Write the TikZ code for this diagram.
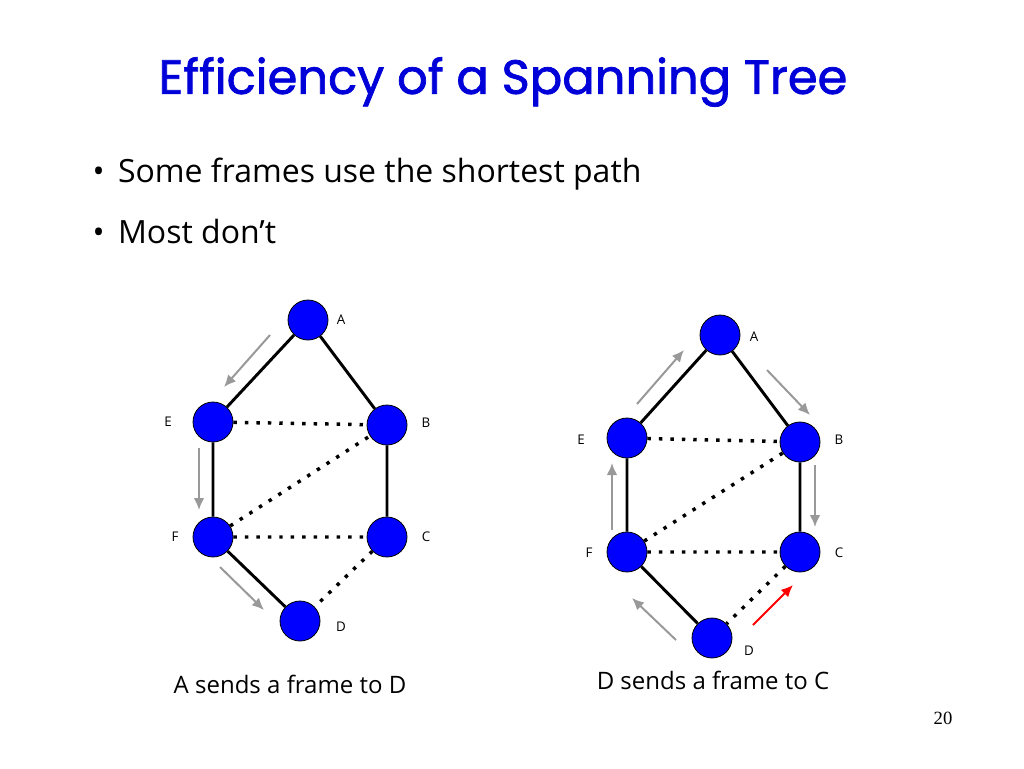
\documentclass[tikz,border=0pt]{standalone}
\usepackage{fontspec}
\usetikzlibrary{arrows.meta}
\setmainfont{Liberation Serif}
\newfontfamily\titlefont{Poppins}[FakeBold=1.5]
\newfontfamily\bodyfont{Open Sans}
\begin{document}
\begin{tikzpicture}[x=0.75pt,y=-0.75pt,
  nd/.style={circle,fill=blue,draw=black,line width=0.6pt,minimum size=30pt,inner sep=0},
  lbl/.style={font=\bodyfont\fontsize{10}{12}\selectfont},
  sol/.style={line width=2.2pt},
  dot/.style={line width=2.6pt,dash pattern=on 2.6pt off 6pt},
  ga/.style={draw=gray!80,line width=1.5pt,-{Latex[length=9pt,width=8pt]}},
  ra/.style={draw=red,line width=1.5pt,-{Latex[length=9pt,width=8pt]}}]
\useasboundingbox (0,0) rectangle (1024,768);
\node[font=\titlefont\fontsize{36}{40}\selectfont,text=blue!85!black] (title) at (503,82) {Efficiency of a Spanning Tree};
\node[anchor=west,font=\bodyfont\fontsize{24}{28}\selectfont] (b1) at (88,174) {\textbullet\hspace{10pt}Some frames use the shortest path};
\node[anchor=west,font=\bodyfont\fontsize{24}{28}\selectfont] (b2) at (88,231) {\textbullet\hspace{10pt}Most don’t};
% left
\node[nd] (A) at (308,320) {}; \node[nd] (E) at (213,422) {}; \node[nd] (B) at (387,425) {};
\node[nd] (F) at (213,537) {}; \node[nd] (C) at (387,537) {}; \node[nd] (D) at (300,621) {};
\draw[sol] (A)--(E) (A)--(B) (E)--(F) (B)--(C) (F)--(D);
\draw[dot] (E)--(B) (F)--(B) (F)--(C) (C)--(D);
\node[lbl] (la) at (341,320) {A}; \node[lbl] (le) at (168,422) {E}; \node[lbl] (lb) at (426,423) {B};
\node[lbl] (lf) at (175,537) {F}; \node[lbl] (lc) at (426,537) {C}; \node[lbl] (ld) at (341,627) {D};
\coordinate (p1) at (270,335); \coordinate (p2) at (224,387);
\coordinate (p3) at (199,448); \coordinate (p4) at (199,510);
\coordinate (p5) at (220,567); \coordinate (p6) at (264,610);
\draw[ga] (p1)--(p2); \draw[ga] (p3)--(p4); \draw[ga] (p5)--(p6);
\node[font=\bodyfont\fontsize{18}{22}\selectfont] (cap1) at (290,684) {A sends a frame to D};
% right
\node[nd] (A2) at (720,335) {}; \node[nd] (E2) at (627,438) {}; \node[nd] (B2) at (800,442) {};
\node[nd] (F2) at (627,552) {}; \node[nd] (C2) at (800,552) {}; \node[nd] (D2) at (712,638) {};
\draw[sol] (A2)--(E2) (A2)--(B2) (E2)--(F2) (B2)--(C2) (F2)--(D2);
\draw[dot] (E2)--(B2) (F2)--(B2) (F2)--(C2) (C2)--(D2);
\node[lbl] (la2) at (754,337) {A}; \node[lbl] (le2) at (581,440) {E}; \node[lbl] (lb2) at (839,440) {B};
\node[lbl] (lf2) at (589,553) {F}; \node[lbl] (lc2) at (839,553) {C}; \node[lbl] (ld2) at (749,651) {D};
\coordinate (q1) at (637,404); \coordinate (q2) at (684,350);
\coordinate (q3) at (612,530); \coordinate (q4) at (612,463);
\coordinate (q5) at (676,640); \coordinate (q6) at (632,598);
\coordinate (q7) at (767,370); \coordinate (q8) at (810,415);
\coordinate (q9) at (815,465); \coordinate (q10) at (815,527);
\coordinate (r1) at (753,625); \coordinate (r2) at (793,585);
\draw[ga] (q1)--(q2); \draw[ga] (q3)--(q4); \draw[ga] (q5)--(q6);
\draw[ga] (q7)--(q8); \draw[ga] (q9)--(q10); \draw[ra] (r1)--(r2);
\node[font=\bodyfont\fontsize{18}{22}\selectfont] (cap2) at (713,680) {D sends a frame to C};
\node[font=\fontsize{14}{16}\selectfont] (pg) at (943,718) {20};
\end{tikzpicture}
\end{document}
